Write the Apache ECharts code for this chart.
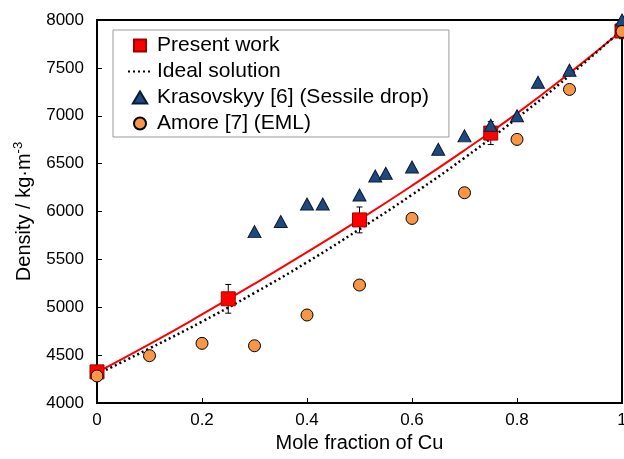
<!DOCTYPE html>
<html>
<head>
<meta charset="utf-8">
<script src="https://cdn.jsdelivr.net/npm/echarts@6/dist/echarts.min.js"></script>
<style>html,body{margin:0;padding:0;background:#fff}#c{width:624px;height:459px}</style>
</head>
<body>
<div id="c"></div>
<script>
// Present work (measured)
var presentX = [0, 0.25, 0.5, 0.75, 1.0];
var presentY = [4325, 5088, 5912, 6819, 7885];
var presentErr = [60, 150, 135, 120, 80];
// Fit curve through present work
var fitX = [0, 0.1, 0.2, 0.3, 0.4, 0.5, 0.6, 0.7, 0.8, 0.9, 1.0];
var fitY = [4320, 4615, 4925, 5245, 5575, 5915, 6270, 6640, 7025, 7445, 7890];
// Ideal solution (dotted line)
var idealX = [0, 0.1, 0.2, 0.3, 0.4, 0.5, 0.6, 0.7, 0.8, 0.9, 1.0];
var idealY = [4300, 4570, 4850, 5150, 5470, 5815, 6175, 6560, 6975, 7420, 7900];
// Krasovskyy [6] (Sessile drop)
var krasX = [0.3, 0.35, 0.4, 0.43, 0.5, 0.53, 0.55, 0.6, 0.65, 0.7, 0.75, 0.8, 0.84, 0.9, 1.0];
var krasY = [5790, 5895, 6078, 6078, 6172, 6370, 6400, 6465, 6650, 6790, 6900, 7000, 7350, 7476, 8000];
// Amore [7] (EML)
var amoreX = [0, 0.1, 0.2, 0.3, 0.4, 0.5, 0.6, 0.7, 0.8, 0.9, 1.0];
var amoreY = [4282, 4494, 4623, 4598, 4919, 5232, 5928, 6196, 6753, 7275, 7880];

var xTicks = [0, 0.2, 0.4, 0.6, 0.8, 1];
var yTicks = [4000, 4500, 5000, 5500, 6000, 6500, 7000, 7500, 8000];

function zip(a, b) { return a.map(function (v, i) { return [v, b[i]]; }); }

var FONT = 'Liberation Sans';
var chart = echarts.init(document.getElementById('c'));
chart.setOption({
  animation: false,
  textStyle: { fontFamily: FONT },
  grid: { left: 97, right: 2, top: 20, bottom: 56, outerBoundsMode: 'none', containLabel: false,
    show: true, borderColor: '#000', borderWidth: 2, backgroundColor: 'transparent' },
  legend: {
    data: [
      { name: 'Present work', icon: 'path://M0,0h10v10h-10z' },
      { name: 'Ideal solution', itemStyle: { opacity: 0 } },
      { name: 'Krasovskyy [6] (Sessile drop)', icon: 'path://M6,0L12,10L0,10z' },
      { name: 'Amore [7] (EML)', icon: 'circle' }
    ],
    orient: 'vertical', left: 113, top: 30,
    padding: [5, 20, 3, 14],
    borderColor: '#999', borderWidth: 1, backgroundColor: '#fff',
    itemWidth: 24, itemHeight: 12, itemGap: 5, symbolKeepAspect: true,
    textStyle: { fontFamily: FONT, fontSize: 21, color: '#000' }
  },
  xAxis: {
    type: 'value', min: xTicks[0], max: xTicks[xTicks.length - 1], interval: 0.2,
    name: 'Mole fraction of Cu', nameLocation: 'middle', nameGap: 30,
    nameTextStyle: { fontFamily: FONT, fontSize: 20, color: '#000' },
    axisLine: { show: true, lineStyle: { color: '#000', width: 2 } },
    axisTick: { show: true, inside: true, length: 5, lineStyle: { color: '#000', width: 1 } },
    axisLabel: { fontFamily: FONT, fontSize: 17, color: '#000', margin: 9, formatter: function (v) { return String(v); } },
    splitLine: { show: false }
  },
  yAxis: {
    type: 'value', min: yTicks[0], max: yTicks[yTicks.length - 1], interval: 500,
    name: '{a|Density / kg·m}{b|-3}', nameLocation: 'middle', nameGap: 61, nameRotate: 90,
    nameTextStyle: { fontFamily: FONT, fontSize: 20, color: '#000',
      rich: { a: { fontFamily: FONT, fontSize: 20, color: '#000', lineHeight: 24 }, b: { fontFamily: FONT, fontSize: 13, color: '#000', verticalAlign: 'top', lineHeight: 24 } } },
    axisLine: { show: true, lineStyle: { color: '#000', width: 2 } },
    axisTick: { show: true, inside: true, length: 5, lineStyle: { color: '#000', width: 1 } },
    axisLabel: { fontFamily: FONT, fontSize: 17, color: '#000', margin: 13, formatter: function (v) { return String(v); } },
    splitLine: { show: false }
  },
  series: [
    { name: 'fit', type: 'line', data: zip(fitX, fitY), smooth: true, symbol: 'none', z: 2,
      lineStyle: { color: '#ff0000', width: 2 } },
    { name: 'Ideal solution', type: 'line', data: zip(idealX, idealY), smooth: true, symbol: 'none', z: 2,
      itemStyle: { color: '#000' },
      lineStyle: { color: '#000', width: 2.5, type: [2, 3] } },
    { name: 'err', type: 'custom', z: 3, clip: false,
      data: presentX.map(function (x, i) { return [x, presentY[i] - presentErr[i], presentY[i] + presentErr[i]]; }),
      renderItem: function (params, api) {
        var lo = api.coord([api.value(0), api.value(1)]);
        var hi = api.coord([api.value(0), api.value(2)]);
        var w = 3;
        var st = { stroke: '#000', lineWidth: 1 };
        return { type: 'group', children: [
          { type: 'line', shape: { x1: lo[0], y1: lo[1], x2: hi[0], y2: hi[1] }, style: st },
          { type: 'line', shape: { x1: lo[0] - w, y1: lo[1], x2: lo[0] + w, y2: lo[1] }, style: st },
          { type: 'line', shape: { x1: hi[0] - w, y1: hi[1], x2: hi[0] + w, y2: hi[1] }, style: st }
        ] };
      }
    },
    { name: 'Present work', type: 'scatter', data: zip(presentX, presentY), symbol: 'rect', symbolSize: 14, z: 4, clip: false,
      itemStyle: { color: '#ff0000', borderColor: '#a00000', borderWidth: 1, opacity: 1 } },
    { name: 'Krasovskyy [6] (Sessile drop)', type: 'scatter', data: zip(krasX, krasY), symbol: 'triangle', symbolSize: [13, 12], z: 5, clip: false,
      itemStyle: { color: '#1f497d', borderColor: '#0a1a33', borderWidth: 1, opacity: 1 } },
    { name: 'Amore [7] (EML)', type: 'scatter', data: zip(amoreX, amoreY), symbol: 'circle', symbolSize: 12, z: 6, clip: false,
      itemStyle: { color: '#f79646', borderColor: '#000', borderWidth: 1, opacity: 1 } }
  ]
});
</script>
</body>
</html>
